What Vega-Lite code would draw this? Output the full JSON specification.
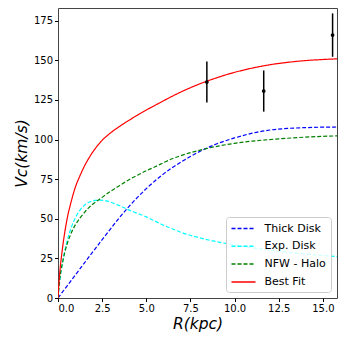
{
  "$schema": "https://vega.github.io/schema/vega-lite/v6.json",
  "autosize": {"type": "none"},
  "width": 279,
  "height": 290,
  "padding": {"left": 58, "top": 8, "right": 9, "bottom": 48},
  "background": "white",
  "config": {
    "font": "DejaVu Sans",
    "view": {"stroke": "#444", "strokeWidth": 1},
    "axis": {"grid": false, "domain": false, "tickColor": "#000", "tickSize": 3.5, "labelFontSize": 10, "labelColor": "#000", "labelPadding": 2, "titleFontSize": 15.5, "titleFontWeight": "normal", "titleFontStyle": "italic", "titleColor": "#000", "labelFont": "DejaVu Sans", "titleFont": "DejaVu Sans"}
  },
  "datasets": {
    "curves": [
      {"r": 0, "v": 0, "s": "Thick Disk"}, {"r": 0.5, "v": 7.4, "s": "Thick Disk"}, {"r": 1, "v": 14.8, "s": "Thick Disk"}, {"r": 1.5, "v": 22.2, "s": "Thick Disk"}, {"r": 2, "v": 29.5, "s": "Thick Disk"}, {"r": 2.5, "v": 36.8, "s": "Thick Disk"}, {"r": 3, "v": 44, "s": "Thick Disk"}, {"r": 3.5, "v": 51, "s": "Thick Disk"}, {"r": 4, "v": 57.5, "s": "Thick Disk"}, {"r": 4.5, "v": 63.5, "s": "Thick Disk"}, {"r": 5, "v": 69, "s": "Thick Disk"}, {"r": 5.5, "v": 74, "s": "Thick Disk"}, {"r": 6, "v": 78.5, "s": "Thick Disk"}, {"r": 6.5, "v": 82.5, "s": "Thick Disk"}, {"r": 7, "v": 86, "s": "Thick Disk"}, {"r": 7.5, "v": 89.3, "s": "Thick Disk"}, {"r": 8, "v": 92.3, "s": "Thick Disk"}, {"r": 9, "v": 97.3, "s": "Thick Disk"}, {"r": 10, "v": 101, "s": "Thick Disk"}, {"r": 11, "v": 104, "s": "Thick Disk"}, {"r": 12, "v": 106, "s": "Thick Disk"}, {"r": 13, "v": 107, "s": "Thick Disk"}, {"r": 14, "v": 107.5, "s": "Thick Disk"}, {"r": 15, "v": 107.8, "s": "Thick Disk"}, {"r": 15.8, "v": 107.9, "s": "Thick Disk"},
      {"r": 0, "v": 0, "s": "Exp. Disk"}, {"r": 0.1, "v": 10.7, "s": "Exp. Disk"}, {"r": 0.25, "v": 21.9, "s": "Exp. Disk"}, {"r": 0.5, "v": 35.2, "s": "Exp. Disk"}, {"r": 0.75, "v": 44.4, "s": "Exp. Disk"}, {"r": 1, "v": 51, "s": "Exp. Disk"}, {"r": 1.25, "v": 55.5, "s": "Exp. Disk"}, {"r": 1.5, "v": 58.6, "s": "Exp. Disk"}, {"r": 1.75, "v": 60.4, "s": "Exp. Disk"}, {"r": 2, "v": 61.4, "s": "Exp. Disk"}, {"r": 2.35, "v": 61.8, "s": "Exp. Disk"}, {"r": 2.75, "v": 61.3, "s": "Exp. Disk"}, {"r": 3, "v": 60.4, "s": "Exp. Disk"}, {"r": 3.5, "v": 58.2, "s": "Exp. Disk"}, {"r": 4, "v": 55.6, "s": "Exp. Disk"}, {"r": 4.5, "v": 53.4, "s": "Exp. Disk"}, {"r": 5, "v": 51.2, "s": "Exp. Disk"}, {"r": 5.5, "v": 48.5, "s": "Exp. Disk"}, {"r": 6, "v": 45.8, "s": "Exp. Disk"}, {"r": 6.5, "v": 43.5, "s": "Exp. Disk"}, {"r": 7, "v": 41.3, "s": "Exp. Disk"}, {"r": 8, "v": 38, "s": "Exp. Disk"}, {"r": 9, "v": 35.5, "s": "Exp. Disk"}, {"r": 10, "v": 33.5, "s": "Exp. Disk"}, {"r": 11, "v": 31.7, "s": "Exp. Disk"}, {"r": 12, "v": 30.2, "s": "Exp. Disk"}, {"r": 13, "v": 28.9, "s": "Exp. Disk"}, {"r": 14, "v": 27.8, "s": "Exp. Disk"}, {"r": 15, "v": 26.8, "s": "Exp. Disk"}, {"r": 15.8, "v": 26.1, "s": "Exp. Disk"},
      {"r": 0, "v": 0, "s": "NFW - Halo"}, {"r": 0.1, "v": 12, "s": "NFW - Halo"}, {"r": 0.25, "v": 22, "s": "NFW - Halo"}, {"r": 0.5, "v": 33.5, "s": "NFW - Halo"}, {"r": 0.75, "v": 41, "s": "NFW - Halo"}, {"r": 1, "v": 46.5, "s": "NFW - Halo"}, {"r": 1.25, "v": 50.5, "s": "NFW - Halo"}, {"r": 1.5, "v": 54, "s": "NFW - Halo"}, {"r": 1.75, "v": 57, "s": "NFW - Halo"}, {"r": 2, "v": 59.5, "s": "NFW - Halo"}, {"r": 2.5, "v": 63.5, "s": "NFW - Halo"}, {"r": 3, "v": 67.5, "s": "NFW - Halo"}, {"r": 3.5, "v": 71, "s": "NFW - Halo"}, {"r": 4, "v": 74.5, "s": "NFW - Halo"}, {"r": 4.5, "v": 77.5, "s": "NFW - Halo"}, {"r": 5, "v": 80.3, "s": "NFW - Halo"}, {"r": 5.5, "v": 82.8, "s": "NFW - Halo"}, {"r": 6, "v": 85.5, "s": "NFW - Halo"}, {"r": 6.5, "v": 88, "s": "NFW - Halo"}, {"r": 7, "v": 90, "s": "NFW - Halo"}, {"r": 8, "v": 93.2, "s": "NFW - Halo"}, {"r": 9, "v": 95.7, "s": "NFW - Halo"}, {"r": 10, "v": 97.6, "s": "NFW - Halo"}, {"r": 11, "v": 99, "s": "NFW - Halo"}, {"r": 12, "v": 100, "s": "NFW - Halo"}, {"r": 13, "v": 100.8, "s": "NFW - Halo"}, {"r": 14, "v": 101.5, "s": "NFW - Halo"}, {"r": 15, "v": 102, "s": "NFW - Halo"}, {"r": 15.8, "v": 102.3, "s": "NFW - Halo"},
      {"r": 0, "v": 0, "s": "Best Fit"}, {"r": 0.05, "v": 9, "s": "Best Fit"}, {"r": 0.1, "v": 16, "s": "Best Fit"}, {"r": 0.25, "v": 31, "s": "Best Fit"}, {"r": 0.5, "v": 49, "s": "Best Fit"}, {"r": 0.75, "v": 61, "s": "Best Fit"}, {"r": 1, "v": 70.5, "s": "Best Fit"}, {"r": 1.25, "v": 77.3, "s": "Best Fit"}, {"r": 1.5, "v": 83.3, "s": "Best Fit"}, {"r": 1.75, "v": 88.3, "s": "Best Fit"}, {"r": 2, "v": 92.6, "s": "Best Fit"}, {"r": 2.25, "v": 96.3, "s": "Best Fit"}, {"r": 2.5, "v": 99.5, "s": "Best Fit"}, {"r": 2.75, "v": 102.1, "s": "Best Fit"}, {"r": 3, "v": 104.4, "s": "Best Fit"}, {"r": 3.5, "v": 108.4, "s": "Best Fit"}, {"r": 4, "v": 112, "s": "Best Fit"}, {"r": 4.5, "v": 115.4, "s": "Best Fit"}, {"r": 5, "v": 118.6, "s": "Best Fit"}, {"r": 5.5, "v": 121.6, "s": "Best Fit"}, {"r": 6, "v": 124.6, "s": "Best Fit"}, {"r": 6.5, "v": 127.5, "s": "Best Fit"}, {"r": 7, "v": 130.2, "s": "Best Fit"}, {"r": 7.5, "v": 132.7, "s": "Best Fit"}, {"r": 8, "v": 135, "s": "Best Fit"}, {"r": 8.5, "v": 137.1, "s": "Best Fit"}, {"r": 9, "v": 139, "s": "Best Fit"}, {"r": 9.5, "v": 140.8, "s": "Best Fit"}, {"r": 10, "v": 142.4, "s": "Best Fit"}, {"r": 10.5, "v": 143.8, "s": "Best Fit"}, {"r": 11, "v": 145.1, "s": "Best Fit"}, {"r": 11.5, "v": 146.2, "s": "Best Fit"}, {"r": 12, "v": 147.2, "s": "Best Fit"}, {"r": 13, "v": 148.7, "s": "Best Fit"}, {"r": 14, "v": 149.8, "s": "Best Fit"}, {"r": 15, "v": 150.5, "s": "Best Fit"}, {"r": 15.8, "v": 150.9, "s": "Best Fit"}
    ],
    "obs": [
      {"r": 8.43, "v": 136.3, "lo": 123.3, "hi": 149.3},
      {"r": 11.65, "v": 130.6, "lo": 117.6, "hi": 143.6},
      {"r": 15.55, "v": 165.9, "lo": 152.2, "hi": 179.6}
    ]
  },
  "layer": [
    {
      "data": {"name": "curves"},
      "mark": {"type": "line", "strokeWidth": 1.2, "clip": true, "interpolate": "monotone"},
      "encoding": {
        "x": {"field": "r", "type": "quantitative", "scale": {"domain": [0, 15.8], "nice": false, "zero": false}, "axis": {"title": "R(kpc)", "values": [0, 2.5, 5, 7.5, 10, 12.5, 15], "format": ".1f", "titlePadding": 3}},
        "y": {"field": "v", "type": "quantitative", "scale": {"domain": [0, 183], "nice": false}, "axis": {"title": "Vc(km/s)", "values": [0, 25, 50, 75, 100, 125, 150, 175], "titlePadding": 4}},
        "color": {"field": "s", "type": "nominal", "scale": {"domain": ["Thick Disk", "Exp. Disk", "NFW - Halo", "Best Fit"], "range": ["#0000ff", "#00ffff", "#008000", "#ff0000"]}, "legend": {"title": null, "orient": "bottom-right", "offset": 6, "symbolType": "M-1,0H3", "symbolSize": 144, "symbolStrokeWidth": 1.5, "labelFontSize": 11, "labelColor": "#000", "labelOffset": 20, "rowPadding": 5.8, "padding": 4.5, "fillColor": "rgba(255,255,255,0.8)", "strokeColor": "#cccccc", "cornerRadius": 3}},
        "strokeDash": {"field": "s", "type": "nominal", "scale": {"domain": ["Thick Disk", "Exp. Disk", "NFW - Halo", "Best Fit"], "range": [[4, 2], [4, 2], [4, 2], [1, 0]]}, "legend": null},
        "order": {"field": "r", "type": "quantitative"}
      }
    },
    {
      "data": {"name": "obs"},
      "mark": {"type": "rule", "color": "#000", "strokeWidth": 1.5},
      "encoding": {
        "x": {"field": "r", "type": "quantitative"},
        "y": {"field": "lo", "type": "quantitative"},
        "y2": {"field": "hi"}
      }
    },
    {
      "data": {"name": "obs"},
      "mark": {"type": "point", "filled": true, "color": "#000", "size": 14, "opacity": 1},
      "encoding": {
        "x": {"field": "r", "type": "quantitative"},
        "y": {"field": "v", "type": "quantitative"}
      }
    }
  ]
}
